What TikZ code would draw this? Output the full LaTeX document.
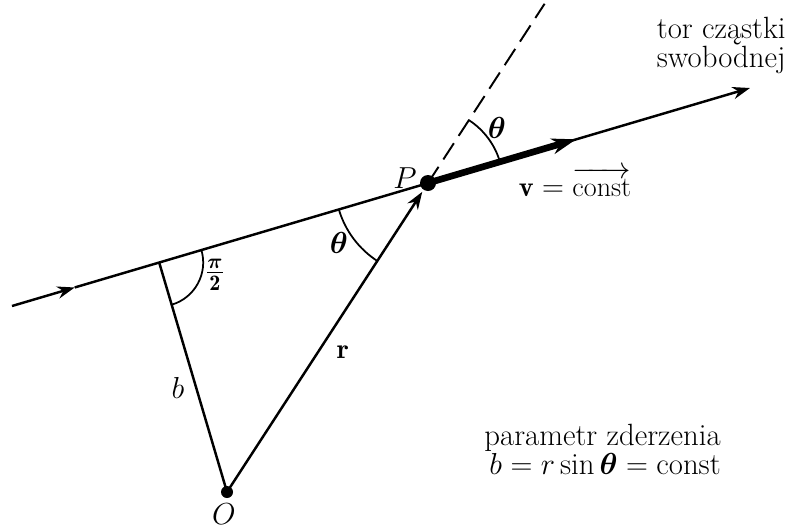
\documentclass[tikz,border=0pt]{standalone}
\usepackage{amsmath}
\usepackage{amssymb}
\usepackage{fontspec}
\usetikzlibrary{arrows.meta,calc,angles,positioning}

\begin{document}
\begin{tikzpicture}[every node/.style={font=\fontsize{16}{17}\selectfont}]
\tikzset{
    trackline/.style={line width=1.4pt},
    vecline/.style={line width=1.4pt, -{Stealth[length=10pt,width=7pt]}},
    bigvec/.style={line width=3.8pt, -{Stealth[length=14pt,width=9pt]}},
    dashline/.style={line width=1.1pt, dash pattern=on 11pt off 5pt},
    anglearc/.style={draw, line width=1pt},
    dotnode/.style={circle, fill, inner sep=0pt},
    textnote/.style={align=right, anchor=east, inner sep=0pt, font=\fontsize{17.5}{16.5}\selectfont}
}
\useasboundingbox (0,0) rectangle (15.86,10.58);

% points of the scattering geometry
\coordinate (A) at (0.24,4.46);
\coordinate (E) at (15.0,8.82);
\coordinate (P) at (8.56,6.92);
\coordinate (O) at (4.54,0.74);
\coordinate (F) at ($(A)!(O)!(E)$);
\coordinate (M) at ($(A)!0.085!(E)$);
\coordinate (D) at ($(O)!1.58!(P)$);
\coordinate (V) at ($(P)!0.46!(E)$);

% free particle track
\draw[vecline] (A) -- (M);
\draw[vecline] (M) -- (E);
\draw[dashline] (P) -- (D);

% impact parameter, radius vector, velocity
\draw[trackline] (F) -- (O);
\draw[vecline, shorten >=6pt] (O) -- (P);
\draw[bigvec] (P) -- (V);

% angles
\pic[anglearc, angle radius=0.88cm] {angle = O--F--E};
\pic[anglearc, angle radius=1.86cm] {angle = A--P--O};
\pic[anglearc, angle radius=1.5cm] {angle = E--P--D};

\node[dotnode, minimum size=0.32cm] (dotP) at (P) {};
\node[dotnode, minimum size=0.24cm] (dotO) at (O) {};

% labels
\node (lP) at (8.1,7.02) {$P$};
\node[inner sep=1pt] (lO) at (4.48,0.3) {$O$};
\node (lb) at (3.56,2.82) {$b$};
\node (lr) at (6.86,3.54) {$\mathbf{r}$};
\node[font=\fontsize{18}{18}\selectfont] (lpi) at (4.3,5.08) {$\frac{\boldsymbol\pi}{\mathbf 2}$};
\node (lthP) at (6.78,5.72) {$\boldsymbol\theta$};
\node (lthD) at (9.94,8.02) {$\boldsymbol\theta$};
\node (lv) at (11.5,6.94) {$\mathbf v = \overrightarrow{\mathrm{const}}$};
\node[textnote] (ltor) at (15.72,9.68) {tor cząstki\\swobodnej};
\node[textnote] (lpar) at (14.42,1.6) {parametr zderzenia\\$b = r\sin\boldsymbol\theta = \mathrm{const}$};
\end{tikzpicture}
\end{document}
